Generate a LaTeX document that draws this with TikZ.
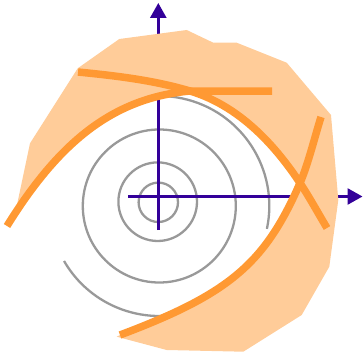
\documentclass[tikz,border=0pt]{standalone}
\usetikzlibrary{arrows.meta}
\definecolor{axisblue}{RGB}{51,0,153}
\definecolor{spiralgray}{RGB}{153,153,153}
\definecolor{curveorange}{RGB}{255,153,51}
\definecolor{bandfill}{RGB}{255,204,153}
\begin{document}
\begin{tikzpicture}[x=1pt,y=-1pt,
  axisline/.style={draw=axisblue, line width=2.7pt},
  spiral/.style={draw=spiralgray, line width=2.3pt},
  curve/.style={draw=curveorange, line width=7.5pt},
  tipstyle/.style={-{Triangle[length=15pt,width=16pt]}}]
\useasboundingbox (0,0) rectangle (364,353);
% centres
\coordinate (c0) at (158.3,202.3);
\coordinate (c1) at (157.7,201.7);
\coordinate (c2) at (159.3,206);
% gray rings
\draw[spiral] (c0) circle[radius=19.7];
\draw[spiral] (c1) circle[radius=39.3];
\draw[spiral] (c2) circle[radius=76.5];
\draw[spiral] ([shift={(12:110)}]c2) arc[start angle=12,end angle=-110,radius=110];
\draw[spiral] ([shift={(-210:110)}]c2) arc[start angle=-210,end angle=-290,radius=110];
% axes
\coordinate (ybot) at (158.3,230);
\coordinate (ytop) at (158.3,3);
\coordinate (xl) at (128,196.5);
\coordinate (xr) at (362.5,196.5);
\draw[axisline,tipstyle] (ybot) -- (ytop);
\draw[axisline,tipstyle] (xl) -- (xr);
% curve end points and crossings
\coordinate (bL) at (7,226);
\coordinate (xAB) at (190,91);
\coordinate (bR) at (272,91);
\coordinate (aL) at (78,72);
\coordinate (xAC) at (300,183);
\coordinate (aR) at (327,228);
\coordinate (cL) at (120,335);
\coordinate (cR) at (321,117);
% light band
\fill[bandfill] (cL) -- (116.7,336.7) -- (166.7,350) -- (243.3,351.7) -- (301.7,315)
  -- (329.3,266.7) -- (338.3,200) -- (331,115) -- (286.7,62.7) -- (236.7,42.7)
  -- (213.3,42.7) -- (186.7,30) -- (119.3,39) -- (77.7,68.3) -- (30,143.3)
  -- (15.5,212) -- (bL)
  .. controls (59,142) and (113,98) .. (xAB)
  .. controls (230,103) and (267,133) .. (xAC)
  .. controls (264.8,263.8) and (229,294) .. (cL) -- cycle;
% orange curves
\draw[curve] (bL) .. controls (59,142) and (113,98) .. (xAB) -- (bR);
\draw[curve] (aL) .. controls (115,75.7) and (153,80) .. (xAB)
  .. controls (230,103) and (267,133) .. (xAC)
  .. controls (309,196.5) and (318,213) .. (aR);
\draw[curve] (cL) .. controls (229,294) and (264.8,263.8) .. (xAC)
  .. controls (308,164.6) and (315,136) .. (cR);
\end{tikzpicture}
\end{document}
